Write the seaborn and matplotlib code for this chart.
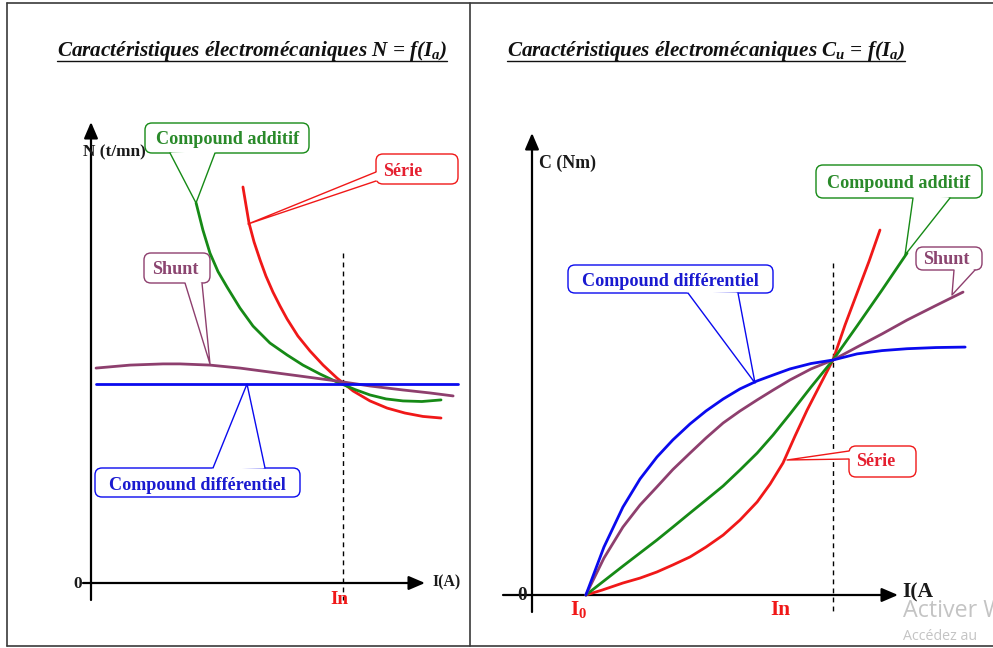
import numpy as np
import pandas as pd
import matplotlib
matplotlib.use("Agg")
import matplotlib.pyplot as plt
import seaborn as sns
from matplotlib.patches import FancyBboxPatch, Polygon

# ---------------- data (normalised units: I/In, N/Nn, C/Cn) ----------------
# Left panel : N = f(I)
serie_I_L = [0.603, 0.615, 0.627, 0.647, 0.671, 0.694, 0.722, 0.750, 0.778, 0.821,
             0.869, 0.921, 0.976, 1.040, 1.107, 1.175, 1.246, 1.317, 1.389]
serie_N_L = [1.990, 1.899, 1.809, 1.714, 1.623, 1.543, 1.462, 1.392, 1.327, 1.241,
             1.166, 1.095, 1.030, 0.965, 0.915, 0.879, 0.854, 0.837, 0.829]
add_I_L = [0.417, 0.444, 0.472, 0.504, 0.540, 0.591, 0.643, 0.710, 0.778, 0.841,
           0.909, 0.976, 1.048, 1.107, 1.171, 1.238, 1.313, 1.389]
add_N_L = [1.910, 1.774, 1.658, 1.565, 1.487, 1.382, 1.291, 1.206, 1.146, 1.095,
           1.050, 1.010, 0.972, 0.945, 0.925, 0.915, 0.912, 0.920]
shunt_I_L = [0.020, 0.155, 0.286, 0.353, 0.472, 0.591, 0.710, 0.829, 0.976, 1.107, 1.238, 1.345, 1.437]
shunt_N_L = [1.080, 1.095, 1.101, 1.101, 1.095, 1.080, 1.060, 1.040, 1.015, 0.990, 0.970, 0.955, 0.940]
diff_I_L = [0.020, 0.500, 1.000, 1.456]
diff_N_L = [1.000, 1.000, 1.000, 1.000]

# Right panel : C = f(I)
diff_I_R = [0.179, 0.239, 0.302, 0.359, 0.415, 0.468, 0.525, 0.578, 0.635, 0.691,
            0.748, 0.801, 0.857, 0.927, 1.000, 1.080, 1.163, 1.246, 1.342, 1.439]
diff_C_R = [0.000, 0.204, 0.374, 0.494, 0.587, 0.660, 0.728, 0.783, 0.834, 0.877,
            0.911, 0.936, 0.962, 0.985, 1.000, 1.026, 1.040, 1.048, 1.053, 1.055]
shunt_I_R = [0.179, 0.239, 0.302, 0.359, 0.415, 0.468, 0.525, 0.578, 0.635, 0.691,
             0.748, 0.801, 0.857, 0.927, 1.000, 1.080, 1.163, 1.246, 1.339, 1.432]
shunt_C_R = [0.000, 0.157, 0.289, 0.383, 0.460, 0.534, 0.604, 0.668, 0.732, 0.783,
             0.830, 0.872, 0.915, 0.962, 1.000, 1.055, 1.111, 1.170, 1.230, 1.289]
add_I_R = [0.179, 0.239, 0.302, 0.359, 0.415, 0.468, 0.525, 0.578, 0.635, 0.691,
           0.748, 0.801, 0.857, 0.927, 1.000, 1.080, 1.163, 1.246]
add_C_R = [0.000, 0.060, 0.123, 0.179, 0.234, 0.289, 0.349, 0.404, 0.464, 0.532,
           0.604, 0.681, 0.770, 0.885, 1.000, 1.145, 1.298, 1.455]
serie_I_R = [0.179, 0.233, 0.302, 0.359, 0.415, 0.468, 0.525, 0.578, 0.635, 0.691, 0.748,
             0.791, 0.834, 0.874, 0.914, 0.957, 1.000, 1.040, 1.080, 1.120, 1.156]
serie_C_R = [0.000, 0.021, 0.051, 0.072, 0.098, 0.128, 0.162, 0.204, 0.255, 0.319, 0.396,
             0.472, 0.562, 0.677, 0.787, 0.894, 1.000, 1.149, 1.285, 1.421, 1.553]

motors = ["Série", "Compound additif", "Shunt", "Compound différentiel"]
title_L = "Caractéristiques électromécaniques N = f(I$_a$)"
title_R = "Caractéristiques électromécaniques C$_u$ = f(I$_a$)"

# ---------------- style ----------------
sns.set_theme(style="white")
plt.rcParams["font.family"] = ["Liberation Serif", "DejaVu Serif"]
plt.rcParams["mathtext.default"] = "regular"

RED, GREEN, PURPLE, BLUE = "#F01818", "#168A16", "#8E3F6E", "#0A0AEE"
palette = {"Série": RED, "Compound additif": GREEN, "Shunt": PURPLE, "Compound différentiel": BLUE}
txtcol = {"Série": "#E52030", "Compound additif": "#2A8A2A", "Shunt": "#8B4570", "Compound différentiel": "#1A1AD0"}

W, H, DPI = 993, 648, 100
fig = plt.figure(figsize=(W / DPI, H / DPI), dpi=DPI)
fig.patch.set_facecolor("white")
renderer = fig.canvas.get_renderer()

ov = fig.add_axes([0, 0, 1, 1], zorder=1)
ov.set_xlim(0, W); ov.set_ylim(H, 0); ov.axis("off"); ov.patch.set_alpha(0)

# panel geometry in pixels: origin and nominal point
GL = dict(x0=91, xn=343, y0=583, yn=384)
GR = dict(x0=532, xn=833, y0=595, yn=360)


def panel(z):
    ax = fig.add_axes([0, 0, 1, 1], zorder=z)
    ax.patch.set_alpha(0)
    return ax


def set_lims(ax, g):
    sx = g["xn"] - g["x0"]; sy = g["y0"] - g["yn"]
    ax.set_xlim((0 - g["x0"]) / sx, (W - g["x0"]) / sx)
    ax.set_ylim((g["y0"] - H) / sy, (g["y0"] - 0) / sy)
    ax.axis("off")


def long_df(series, yname):
    rows = []
    for name, xs, ys in series:
        for x, y in zip(xs, ys):
            rows.append({"moteur": name, "I": x, yname: y})
    return pd.DataFrame(rows)


dfL = long_df([("Série", serie_I_L, serie_N_L), ("Compound additif", add_I_L, add_N_L),
               ("Shunt", shunt_I_L, shunt_N_L), ("Compound différentiel", diff_I_L, diff_N_L)], "N")
dfR = long_df([("Série", serie_I_R, serie_C_R), ("Compound additif", add_I_R, add_C_R),
               ("Shunt", shunt_I_R, shunt_C_R), ("Compound différentiel", diff_I_R, diff_C_R)], "C")

axL = panel(2)
sns.lineplot(data=dfL, x="I", y="N", hue="moteur", palette=palette, sort=False,
             estimator=None, legend=False, lw=2.0, ax=axL)
set_lims(axL, GL)
axR = panel(2)
sns.lineplot(data=dfR, x="I", y="C", hue="moteur", palette=palette, sort=False,
             estimator=None, legend=False, lw=2.0, ax=axR)
set_lims(axR, GR)
for a in (axL, axR):
    for ln in a.get_lines():
        ln.set_solid_joinstyle("round"); ln.set_solid_capstyle("round")

# ---------------- helpers ----------------
def fit_text(x, y, s, width, ha="center", va="center", size=None, **kw):
    t = ov.text(x, y, s, fontsize=10, ha=ha, va=va, **kw)
    if size is None:
        w = t.get_window_extent(renderer).width
        size = 10 * width / w
    t.set_fontsize(size)
    return t


def arrow(x1, y1, x2, y2):
    ov.annotate("", xy=(x2, y2), xytext=(x1, y1),
                arrowprops=dict(arrowstyle="-|>,head_length=0.7,head_width=0.3", lw=1.6,
                                color="black", shrinkA=0, shrinkB=0, mutation_scale=14))


def callout(text, box, tc, b1, b2, tip, size):
    col = palette[text]
    x0, y0, x1, y1 = box
    r = 7
    ov.add_patch(FancyBboxPatch((x0 + r, y0 + r), x1 - x0 - 2 * r, y1 - y0 - 2 * r,
                                boxstyle=f"round,pad={r}", fc="white", ec=col, lw=1.0, zorder=3))
    cx, cy = (x0 + x1) / 2, (y0 + y1) / 2
    def inward(p):
        dx, dy = cx - p[0], cy - p[1]
        n = np.hypot(dx, dy)
        return (p[0] + 2.5 * dx / n, p[1] + 2.5 * dy / n)
    ov.add_patch(Polygon([b1, tip, b2, inward(b2), inward(b1)], closed=True,
                         fc="white", ec="none", zorder=4))
    ov.plot([b1[0], tip[0], b2[0]], [b1[1], tip[1], b2[1]], color=col, lw=1.0, zorder=5)
    ov.text(tc[0], tc[1], text, ha="center", va="center", fontsize=size,
            fontweight="bold", color=txtcol[text], zorder=6)


# ---------------- frame ----------------
fc = "#3a3a3a"
ov.plot([7, W], [3, 3], color=fc, lw=1.2)
ov.plot([7, 7], [3, 646], color=fc, lw=1.2)
ov.plot([7, W], [646, 646], color=fc, lw=1.2)
ov.plot([470, 470], [3, 646], color=fc, lw=1.2)

# ---------------- titles ----------------
tL = fit_text(57, 51, title_L, 391, ha="left", fontweight="bold", fontstyle="italic", color="#111111")
tsize = tL.get_fontsize()
tR = fit_text(507, 51, title_R, None, ha="left", size=tsize, fontweight="bold",
              fontstyle="italic", color="#111111")
inv = ov.transData.inverted()
for t in (tL, tR):
    bb = t.get_window_extent(renderer)
    xa = inv.transform((bb.x0, bb.y0))[0]
    xb = inv.transform((bb.x1, bb.y0))[0]
    ov.plot([xa, xb], [61, 61], color="#111111", lw=1.0)

# ---------------- axes (arrows) ----------------
arrow(91, 600, 91, 122)
arrow(83, 583, 425, 583)
arrow(532, 612, 532, 133)
arrow(503, 595, 898, 595)
ov.plot([343, 343], [253, 600], color="black", lw=1.0, ls=(0, (3.5, 3)))
ov.plot([833, 833], [263, 612], color="black", lw=1.0, ls=(0, (3.5, 3)))

# axis labels
lab = fit_text(83, 152, "N (t/mn)", 63, ha="left", fontweight="bold", color="#1a1a1a")
fit_text(539, 163, "C (Nm)", 57, ha="left", fontweight="bold", color="#1a1a1a")
fit_text(432, 582, "I(A)", 28, ha="left", fontweight="bold", color="#1a1a1a")
fit_text(902, 592, "I(A", 31, ha="left", fontweight="bold", color="#1a1a1a")
fit_text(78, 584, "0", None, size=lab.get_fontsize(), fontweight="bold", color="#1a1a1a")
fit_text(522, 596, "0", None, size=lab.get_fontsize() * 1.1, fontweight="bold", color="#1a1a1a")
fit_text(339, 600, "In", 18, fontweight="bold", color=RED)
tin = fit_text(780, 610, "In", 20, fontweight="bold", color=RED)
fit_text(579, 610, "I$_0$", None, size=tin.get_fontsize(), fontweight="bold", color=RED)

# ---------------- callouts ----------------
probe = ov.text(0, 0, "Compound différentiel", fontsize=10, fontweight="bold")
csize = 10 * 177 / probe.get_window_extent(renderer).width
probe.remove()

callouts = [
    ("Compound additif", (145, 123, 309, 153), (228, 140), (170, 153), (215, 153), (196, 203)),
    ("Série", (376, 154, 458, 184), (403, 171), (376, 172), (376, 181), (248, 224)),
    ("Shunt", (144, 253, 210, 283), (175, 269), (185, 283), (202, 283), (210, 364)),
    ("Compound différentiel", (95, 468, 300, 497), (197, 486), (213, 468), (265, 468), (247, 384)),
    ("Compound additif", (816, 165, 982, 198), (899, 183), (913, 198), (950, 198), (905, 255)),
    ("Shunt", (916, 247, 982, 270), (946, 259), (954, 270), (975, 270), (952, 295)),
    ("Compound différentiel", (568, 265, 773, 293), (670, 281), (688, 293), (738, 293), (755, 383)),
    ("Série", (849, 446, 916, 477), (876, 462), (849, 451), (849, 459), (787, 460)),
]
for c in callouts:
    callout(*c, size=csize)

# ---------------- watermark ----------------
w1 = fit_text(903, 611, "Activer", 74, ha="left", color="#c4c4c4", family=["Open Sans", "DejaVu Sans"])
w1.set_text("Activer W")
w2 = fit_text(903, 636, "Accédez", 54, ha="left", color="#c4c4c4", family=["Open Sans", "DejaVu Sans"])
w2.set_text("Accédez au")

fig.savefig("out.png", dpi=DPI)
